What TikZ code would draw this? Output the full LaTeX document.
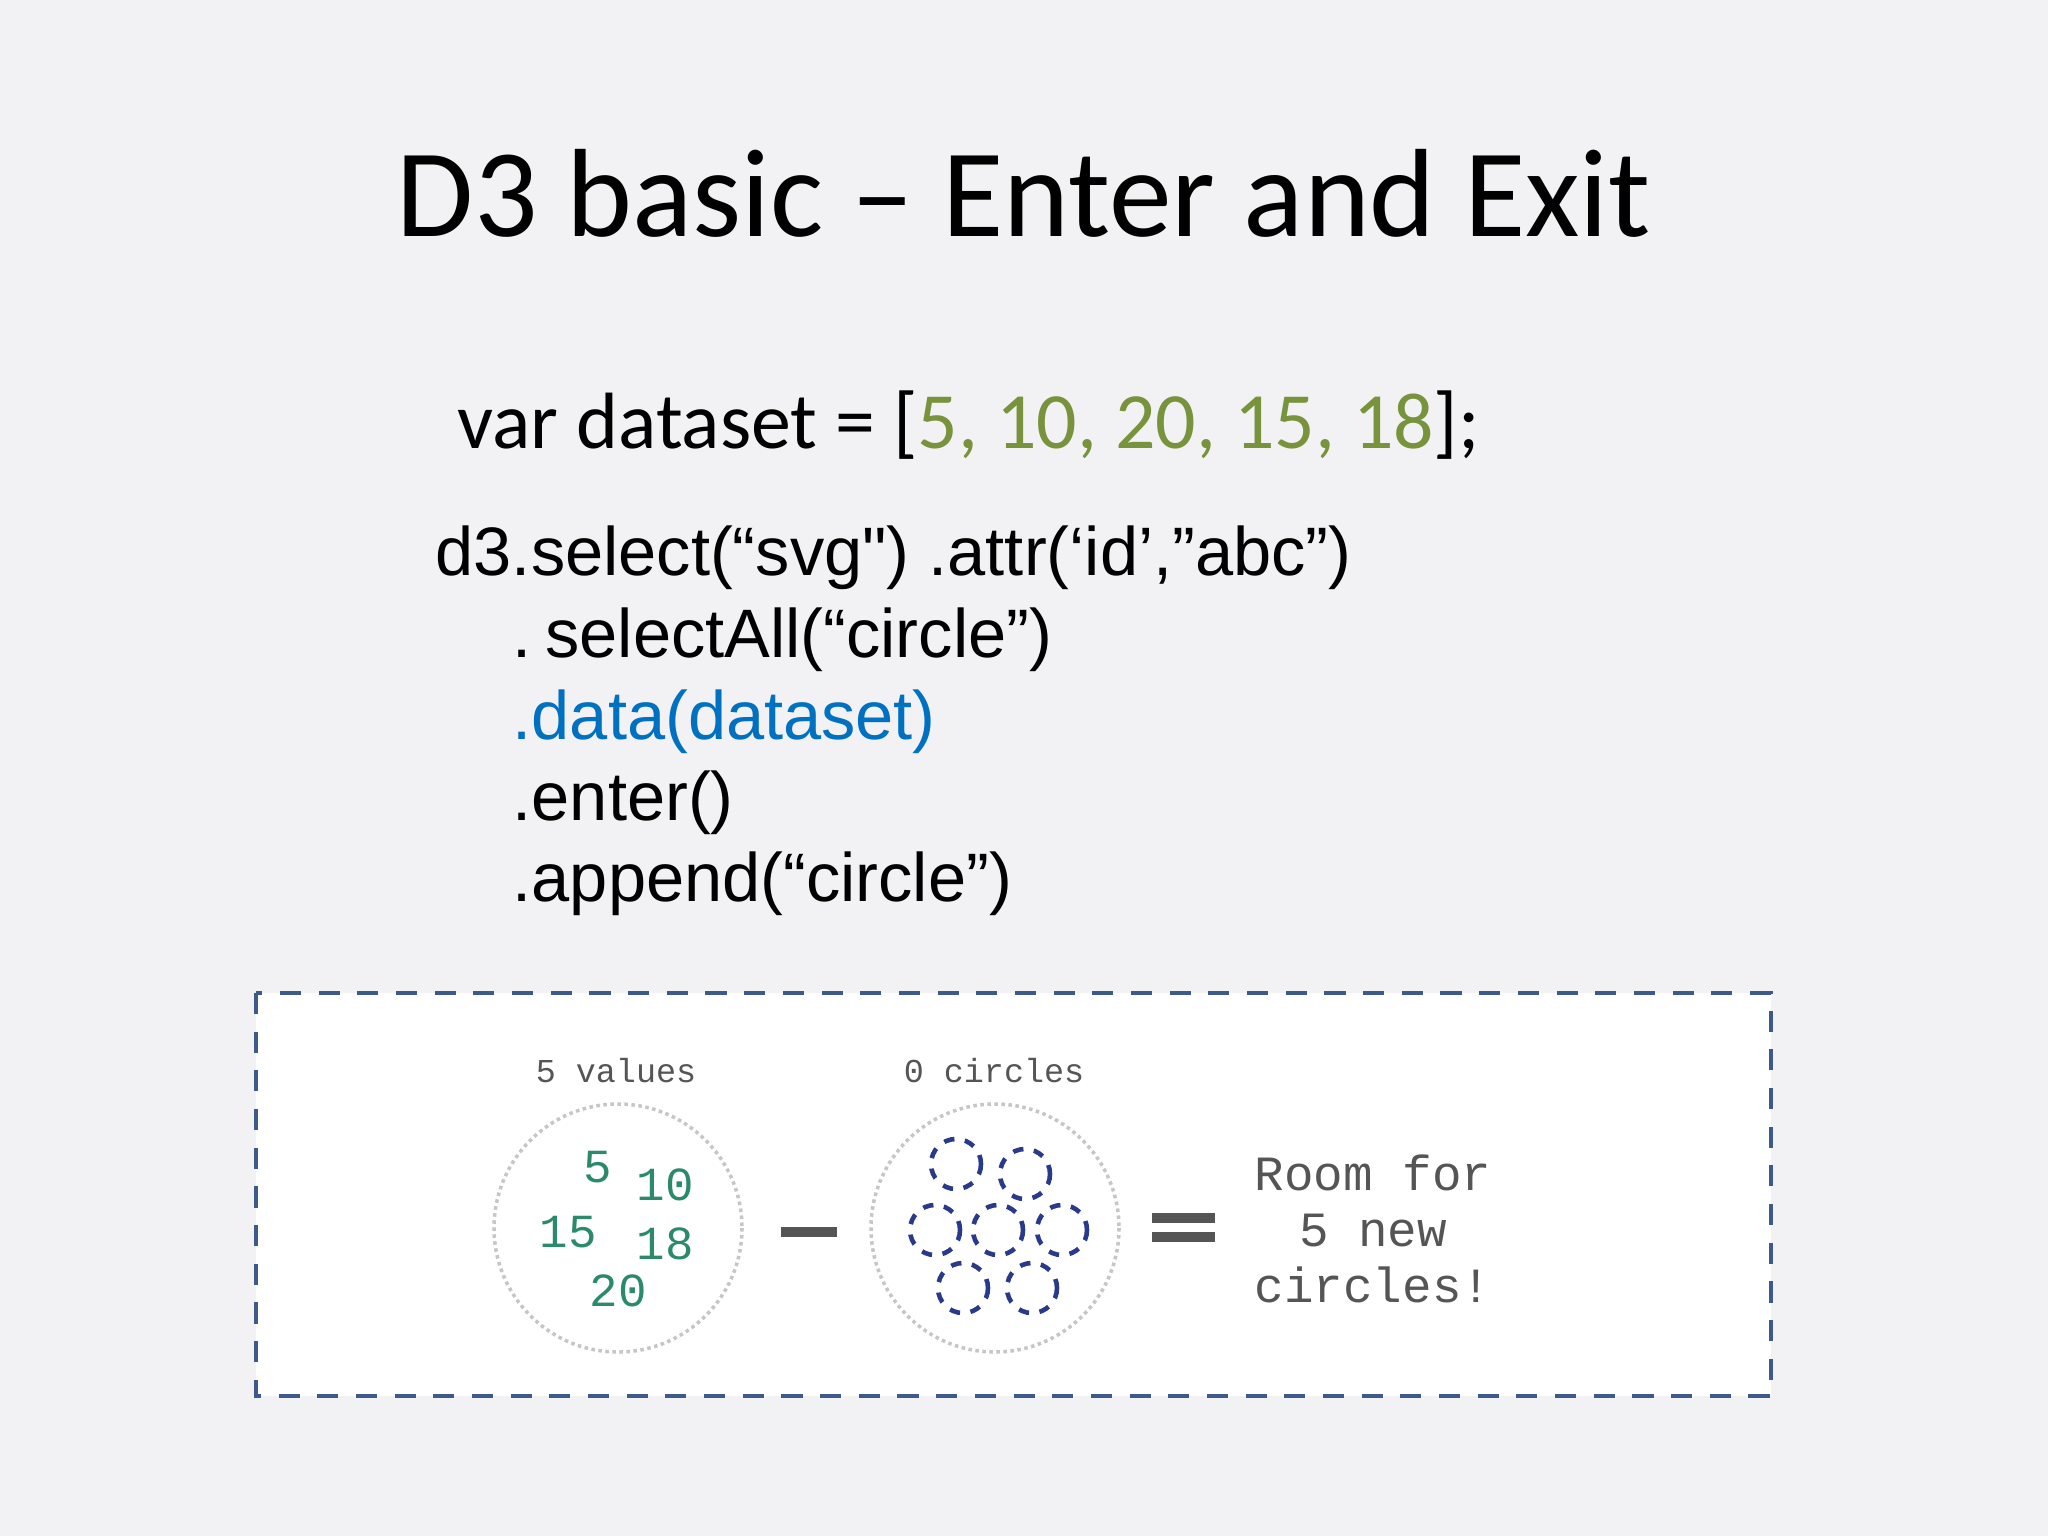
\documentclass[tikz,border=0pt]{standalone}
\usepackage{fontspec}
\setmainfont{Carlito}
\newfontfamily\arialf{Liberation Sans}
\newfontfamily\monof{Liberation Mono}
\definecolor{bg}{HTML}{F2F2F4}
\definecolor{dgreen}{HTML}{77933C}
\definecolor{dblue}{HTML}{0070C0}
\definecolor{boxc}{HTML}{3D5A8A}
\definecolor{tgreen}{HTML}{2A8A6A}
\definecolor{navy}{HTML}{2A3A8A}
\definecolor{gr}{HTML}{555555}
\begin{document}
\begin{tikzpicture}[x=0.01cm,y=-0.01cm,
  code/.style={anchor=base west,inner sep=0,font=\arialf\fontsize{19.5}{23}\selectfont},
  num/.style={anchor=center,inner sep=0,text=tgreen,font=\monof\fontsize{13.5}{16}\selectfont},
  lbl/.style={anchor=center,inner sep=0,text=gr,font=\monof\fontsize{9.5}{11}\selectfont},
  big/.style={draw=gray!45,densely dotted,line width=1pt},
  small/.style={draw=navy,dashed,line width=1.3pt},
  bar/.style={draw=gr,line width=3pt}]
\fill[bg] (0,0) rectangle (2048,1536);
\useasboundingbox (0,0) rectangle (2048,1536);
\node (title) at (1024,193) {\fontsize{35.7}{44}\selectfont D3 basic -- Enter and Exit};
\node[anchor=base west,inner sep=0,font=\fontsize{22.7}{27}\selectfont] (ds) at (457,448) {var dataset = [\textcolor{dgreen}{5, 10, 20, 15, 18}];};
\node[code] (c1) at (435,575) {d3.select(“svg") .attr(‘id’,”abc”)};
\node[code] (c2) at (512,657) {.\hspace{0.2em}selectAll(“circle”)};
\node[code,text=dblue] (c3) at (512,739) {.data(dataset)};
\node[code] (c4) at (512,820) {.enter()};
\node[code] (c5) at (512,901) {.append(“circle”)};
\draw[fill=white,draw=boxc,line width=1.2pt,dash pattern=on 6pt off 5pt] (256,993) rectangle (1771,1396);
\node[lbl] (l1) at (616,1071) {5 values};
\node[lbl] (l2) at (994,1071) {0 circles};
\draw[big] (618,1228) circle (124);
\draw[big] (995,1228) circle (124);
\node[num] (n5) at (598,1167) {5};
\node[num] (n10) at (665,1185) {10};
\node[num] (n15) at (568,1232) {15};
\node[num] (n18) at (665,1244) {18};
\node[num] (n20) at (618,1291) {20};
\draw[bar] (781,1232) -- (837,1232);
\draw[bar] (1152,1218) -- (1215,1218);
\draw[bar] (1152,1237) -- (1215,1237);
\foreach \x/\y in {956/1164,1025/1174,935/1230,998/1230,1062/1230,963/1288,1032/1288}
  \draw[small] (\x,\y) circle (25);
\node[anchor=center,text=gr,align=center,font=\monof\fontsize{14}{16}\selectfont] (room) at (1373,1229) {Room for\\5 new\\circles!};
\end{tikzpicture}
\end{document}
